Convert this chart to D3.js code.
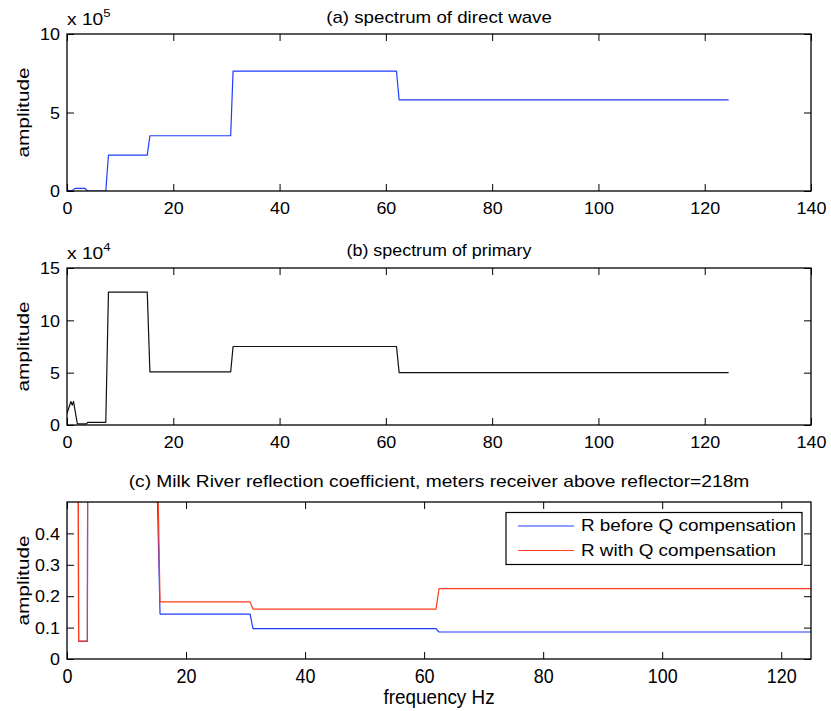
<!DOCTYPE html>
<html><head><meta charset="utf-8">
<script src="https://cdn.jsdelivr.net/npm/d3@7"></script>
<style>
body{margin:0;background:#fff;}
text{font-family:"Liberation Sans",Arial,Helvetica,sans-serif;fill:#000;}
</style></head>
<body>
<svg id="chart" width="831" height="711"></svg>
<script>
// ---- data (frequency Hz, amplitude) ----
const directFreq = [0, 0.6, 1.0, 1.5, 3.4, 3.85, 7.3, 7.8, 15.1, 15.6, 30.8, 31.25, 62.0, 62.5, 124.5];
const directAmp  = [6000, 1000, 2000, 17000, 17000, 0, 0, 229000, 229000, 352000, 352000, 764000, 764000, 580000, 580000];

const primaryFreq = [0, 0.73, 0.98, 1.22, 1.95, 3.66, 3.9, 7.3, 7.8, 15.1, 15.6, 30.8, 31.25, 62.0, 62.5, 124.5];
const primaryAmp  = [11000, 22500, 19000, 22500, 1000, 1000, 2500, 2500, 127000, 127000, 50700, 50700, 75000, 75000, 50000, 50000];

const reflFreq   = [0, 1.46, 1.95, 3.42, 3.9, 7.32, 7.81, 15.14, 15.63, 30.76, 31.25, 62.0, 62.5, 125];
const reflBefore = [5, 5, 0.056, 0.056, 5, 5, 0.555, 0.555, 0.143, 0.143, 0.097, 0.097, 0.086, 0.086];
const reflWithQ  = [5, 5, 0.057, 0.057, 5, 5, 0.70, 0.70, 0.182, 0.182, 0.159, 0.159, 0.224, 0.224];

const titles = ["(a) spectrum of direct wave", "(b) spectrum of primary",
  "(c) Milk River reflection coefficient, meters receiver above reflector=218m"];
const xTicksAB = [0, 20, 40, 60, 80, 100, 120, 140];
const xTicksC  = [0, 20, 40, 60, 80, 100, 120];
const yTicksA  = [0, 5, 10];      // x 10^5
const yTicksB  = [0, 5, 10, 15];  // x 10^4
const yTicksC  = [0, 0.1, 0.2, 0.3, 0.4];
const legendLabels = ["R before Q compensation", "R with Q compensation"];

// ---- drawing ----
const svg = d3.select("#chart");
const L = 67, R = 811;
const FS = 16;
const BLUE = "#1f3dff", RED = "#ff3a1a";

// stretch a text element around its own anchor point
function stretch(sel, sx, sy) {
  sel.each(function () {
    const t = d3.select(this);
    const x = +t.attr("x") || 0, y = +t.attr("y") || 0;
    t.attr("transform", `translate(${x},${y}) scale(${sx},${sy}) translate(${-x},${-y})`);
  });
}

function panel(cfg) {
  const g = svg.append("g");
  const x = d3.scaleLinear().domain(cfg.xDomain).range([L, R]);
  const y = d3.scaleLinear().domain(cfg.yDomain).range([cfg.bottom, cfg.top]);
  const id = "clip" + cfg.key;
  svg.append("clipPath").attr("id", id).append("rect")
    .attr("x", L).attr("y", cfg.top).attr("width", R - L).attr("height", cfg.bottom - cfg.top);

  const line = d3.line().x(d => x(d[0])).y(d => y(d[1]));
  cfg.series.forEach(s => {
    g.append("path").attr("clip-path", `url(#${id})`)
      .datum(s.f.map((f, i) => [f, s.v[i]]))
      .attr("d", line).attr("fill", "none").attr("stroke", s.color)
      .attr("stroke-width", 1.2).attr("stroke-linejoin", "round");
  });

  const tl = 7;
  const ax = d3.axisBottom(x).tickValues(cfg.xTicks).tickSize(-tl).tickPadding(cfg.xPad).tickFormat(d3.format("d"));
  const gx = g.append("g").attr("transform", `translate(0,${cfg.bottom})`).call(ax);
  const axT = d3.axisTop(x).tickValues(cfg.xTicks).tickSize(-tl).tickFormat("");
  const gxt = g.append("g").attr("transform", `translate(0,${cfg.top})`).call(axT);
  const ay = d3.axisLeft(y).tickValues(cfg.yTicks).tickSize(-tl).tickPadding(7).tickFormat(cfg.yFmt);
  const gy = g.append("g").attr("transform", `translate(${L},0)`).call(ay);
  const ayR = d3.axisRight(y).tickValues(cfg.yTicks).tickSize(-tl).tickFormat("");
  const gyr = g.append("g").attr("transform", `translate(${R},0)`).call(ayR);
  [gx, gxt, gy, gyr].forEach(a => {
    a.select(".domain").remove();
    a.selectAll("line").attr("stroke", "#000").attr("stroke-width", 1);
    a.selectAll("text").attr("font-size", FS).attr("font-family", '"Liberation Sans",Arial,sans-serif').attr("fill", "#000");
  });
  gx.selectAll("text").attr("dy", "0").attr("dominant-baseline", "alphabetic");
  stretch(gx.selectAll("text"), 1.12, cfg.xsy);
  stretch(gy.selectAll("text"), 1.12, 1);
  gy.selectAll("text").attr("dy", "0.36em");

  g.append("rect").attr("x", L).attr("y", cfg.top).attr("width", R - L).attr("height", cfg.bottom - cfg.top)
    .attr("fill", "none").attr("stroke", "#000").attr("stroke-width", 1.3);

  const tt = g.append("text").attr("x", (L + R) / 2).attr("y", cfg.top - cfg.tOff).attr("text-anchor", "middle")
    .attr("font-size", FS).text(cfg.title);
  stretch(tt, cfg.tsx, 1);
  g.append("text").attr("transform", `translate(29,${(cfg.top + cfg.bottom) / 2}) rotate(-90) scale(1.3,1)`)
    .attr("text-anchor", "middle").attr("font-size", FS).text("amplitude");
  if (cfg.exp) {
    const t = g.append("text").attr("x", L).attr("y", cfg.top - 9).attr("font-size", FS);
    t.append("tspan").text("x 10");
    t.append("tspan").attr("dy", -8).attr("font-size", 11).text(cfg.exp);
    stretch(t, 1.2, 1);
  }
  return {x, y, g};
}

panel({key: "a", top: 34, bottom: 191, xDomain: [0, 140], yDomain: [0, 1e6],
  xTicks: xTicksAB, yTicks: yTicksA.map(d => d * 1e5), yFmt: d => d3.format("d")(d / 1e5),
  title: titles[0], tsx: 1.17, tOff: 11, exp: "5", xPad: 23, xsy: 1,
  series: [{f: directFreq, v: directAmp, color: BLUE}]});

panel({key: "b", top: 268, bottom: 425, xDomain: [0, 140], yDomain: [0, 1.5e5],
  xTicks: xTicksAB, yTicks: yTicksB.map(d => d * 1e4), yFmt: d => d3.format("d")(d / 1e4),
  title: titles[1], tsx: 1.12, tOff: 12, exp: "4", xPad: 23, xsy: 1,
  series: [{f: primaryFreq, v: primaryAmp, color: "#111"}]});

panel({key: "c", top: 502, bottom: 659, xDomain: [0, 125], yDomain: [0, 0.5],
  xTicks: xTicksC, yTicks: yTicksC, yFmt: d => d === 0 ? "0" : d3.format(".1f")(d),
  title: titles[2], tsx: 1.2, tOff: 15, xPad: 24, xsy: 1.3,
  series: [{f: reflFreq, v: reflBefore, color: BLUE}, {f: reflFreq, v: reflWithQ, color: RED}]});

const xl = svg.append("text").attr("x", (L + R) / 2).attr("y", 704).attr("text-anchor", "middle")
  .attr("font-size", FS).text("frequency Hz");
stretch(xl, 1.18, 1.3);

// legend
const lg = svg.append("g");
lg.append("rect").attr("x", 506).attr("y", 512.5).attr("width", 296).attr("height", 52)
  .attr("fill", "#fff").attr("stroke", "#000").attr("stroke-width", 1.2);
[BLUE, RED].forEach((c, i) => {
  const yy = 526 + i * 24.5;
  lg.append("line").attr("x1", 518).attr("x2", 574).attr("y1", yy).attr("y2", yy)
    .attr("stroke", c).attr("stroke-width", 1.2);
  const t = lg.append("text").attr("x", 581).attr("y", yy + 5.5).attr("font-size", FS).text(legendLabels[i]);
  stretch(t, 1.18, 1.05);
});
</script>
</body></html>
